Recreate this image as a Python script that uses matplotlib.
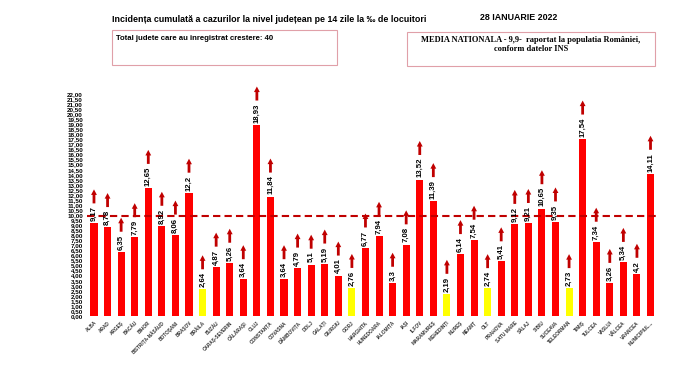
import matplotlib
matplotlib.use("Agg")
import matplotlib.pyplot as plt
from matplotlib import font_manager as fm
from matplotlib.patches import Rectangle

# county names and 14-day incidence values (per 1000 inhabitants)
counties = ["ALBA", "ARAD", "ARGEȘ", "BACĂU", "BIHOR", "BISTRIȚA-NĂSĂUD", "BOTOȘANI",
            "BRAȘOV", "BRĂILA", "BUZĂU", "CARAȘ-SEVERIN", "CĂLĂRAȘI", "CLUJ", "CONSTANȚA",
            "COVASNA", "DÂMBOVIȚA", "DOLJ", "GALAȚI", "GIURGIU", "GORJ", "HARGHITA",
            "HUNEDOARA", "IALOMIȚA", "IAȘI", "ILFOV", "MARAMUREȘ", "MEHEDINȚI", "MUREȘ",
            "NEAMȚ", "OLT", "PRAHOVA", "SATU MARE", "SĂLAJ", "SIBIU", "SUCEAVA",
            "TELEORMAN", "TIMIȘ", "TULCEA", "VASLUI", "VÂLCEA", "VRANCEA", "MUNICIPIUL..."]
values = [9.17, 8.78, 6.35, 7.79, 12.65, 8.92, 8.06, 12.2, 2.64, 4.87, 5.26, 3.64,
          18.93, 11.84, 3.64, 4.79, 5.1, 5.19, 4.01, 2.76, 6.77, 7.94, 3.3, 7.08,
          13.52, 11.39, 2.19, 6.14, 7.54, 2.74, 5.41, 9.12, 9.21, 10.65, 9.35, 2.73,
          17.54, 7.34, 3.26, 5.34, 4.2, 14.11]
national_avg = 9.9
yticks = [i * 0.5 for i in range(45)]

names = {f.name for f in fm.fontManager.ttflist}
narrow = "Liberation Sans Narrow" if "Liberation Sans Narrow" in names else "Liberation Sans"
sans = [narrow, "DejaVu Sans"]

fig = plt.figure(figsize=(7, 3.88), dpi=100)
ax = fig.add_axes([87.2 / 700, 1 - 316 / 388, (657.3 - 87.2) / 700, 222 / 388])

x = list(range(len(values)))
colors = ["#ffff00" if v < 3 else "#ff0000" for v in values]
ax.bar(x, values, width=0.52, color=colors, zorder=2)

ax.set_xlim(-0.5, len(values) - 0.5)
ax.set_ylim(0, 22)
ax.set_yticks(yticks)
ax.set_yticklabels([f"{t:.2f}".replace(".", ",") for t in yticks],
                   fontsize=4.5, fontweight="bold", family=sans)
ax.set_xticks(x)
ax.set_xticklabels(counties, rotation=45, ha="right", rotation_mode="anchor",
                   fontsize=3.4, fontweight="bold", family=sans, color="#333333")
ax.tick_params(axis="both", length=0, pad=3)
for s in ax.spines.values():
    s.set_visible(False)

ax.axhline(national_avg, color="#c00000", lw=1.5, dashes=(3.5, 2), zorder=3)

labels = []
for xi, v in zip(x, values):
    t = ax.annotate(f"{v:g}".replace(".", ","), (xi, v), xytext=(0, 1.5),
                    textcoords="offset points", rotation=90, ha="center", va="bottom",
                    fontsize=5.6, fontweight="bold", family=sans, zorder=4)
    labels.append(t)

# arrows go just above each value label
fig.canvas.draw()
inv = ax.transData.inverted()
for xi, t in zip(x, labels):
    bb = t.get_window_extent()
    y0 = inv.transform((0, bb.y1 + 3))[1]
    y1 = inv.transform((0, bb.y1 + 17))[1]
    ax.annotate("", xy=(xi, y1), xytext=(xi, y0),
                arrowprops=dict(arrowstyle="simple,head_length=0.4,head_width=0.42,tail_width=0.2",
                                color="#c00000", lw=0, shrinkA=0, shrinkB=0,
                                mutation_scale=10),
                annotation_clip=False, zorder=4)

# header texts and boxes
fig.text(112 / 700, 1 - 20 / 388,
         "Incidența cumulată a cazurilor la nivel județean pe 14 zile la ‰ de locuitori",
         fontsize=6.4, fontweight="bold", family=sans, va="center", ha="left")
fig.text(519 / 700, 1 - 18 / 388, "28 IANUARIE 2022", fontsize=6.4, fontweight="bold",
         family=sans, va="center", ha="center")

fig.patches.append(Rectangle((112 / 700, 1 - 65 / 388), 225 / 700, 35 / 388,
                             transform=fig.transFigure, fill=False,
                             edgecolor="#e0a0a8", lw=0.8))
fig.text(116 / 700, 1 - 38 / 388, "Total judete care au inregistrat crestere: 40",
         fontsize=5.6, fontweight="bold", family=sans, va="center", ha="left")

fig.patches.append(Rectangle((407 / 700, 1 - 66 / 388), 248 / 700, 34 / 388,
                             transform=fig.transFigure, fill=False,
                             edgecolor="#e0a0a8", lw=0.8))
fig.text(531 / 700, 1 - 44.5 / 388,
         "MEDIA NATIONALA - 9,9-  raportat la populatia României,\nconform datelor INS",
         fontsize=6, fontweight="bold", family=["Liberation Serif", "DejaVu Serif"],
         va="center", ha="center", linespacing=1.15)

fig.savefig("out.png", dpi=100)
